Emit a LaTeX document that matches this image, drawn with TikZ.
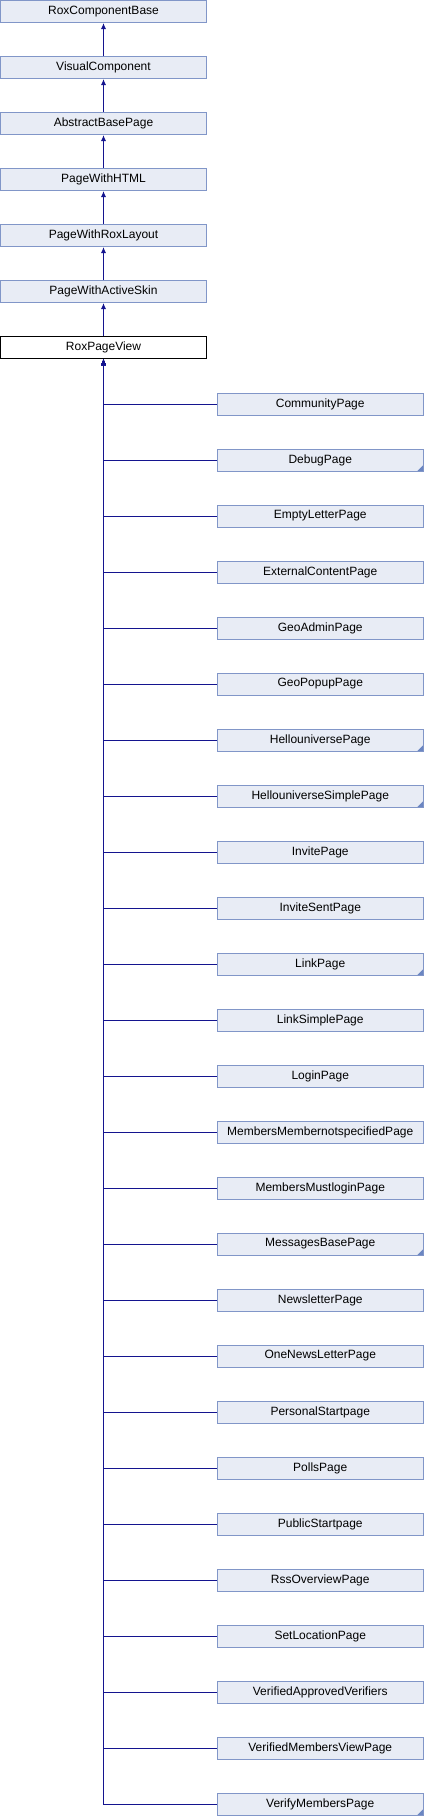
\documentclass[tikz,border=0pt]{standalone}
\usepackage{fontspec}
\setmainfont{Liberation Sans}
\usetikzlibrary{arrows.meta}
\definecolor{boxfill}{HTML}{E8ECF5}
\definecolor{boxline}{HTML}{8196C8}
\definecolor{edgec}{HTML}{14148F}
\definecolor{foldc}{HTML}{6B86C2}
\tikzset{
  cls/.style={rectangle, draw=boxline, fill=boxfill, line width=1pt,
    minimum width=206pt, minimum height=22pt, inner sep=0pt,
    font=\fontsize{12}{14}\selectfont},
  root/.style={cls, draw=black, fill=white},
  folded/.style={path picture={
    \fill[foldc] ([xshift=-6pt]path picture bounding box.south east) --
      (path picture bounding box.south east) --
      ([yshift=6pt]path picture bounding box.south east) -- cycle;}},
  edge/.style={draw=edgec, line width=1pt, -{Latex[length=6pt,width=5pt]}}
}
\begin{document}
\begin{tikzpicture}[x=1pt,y=-1pt]
\useasboundingbox (0,0) rectangle (424,1816);
\node[cls] (n0) at (103.5,11.5) {RoxComponentBase};
\node[cls] (n1) at (103.5,67.5) {VisualComponent};
\node[cls] (n2) at (103.5,123.5) {AbstractBasePage};
\node[cls] (n3) at (103.5,179.5) {PageWithHTML};
\node[cls] (n4) at (103.5,235.5) {PageWithRoxLayout};
\node[cls] (n5) at (103.5,291.5) {PageWithActiveSkin};
\node[root] (rpv) at (103.5,347.5) {RoxPageView};
\draw[edge] (n1.north) -- (n0.south);
\draw[edge] (n2.north) -- (n1.south);
\draw[edge] (n3.north) -- (n2.south);
\draw[edge] (n4.north) -- (n3.south);
\draw[edge] (n5.north) -- (n4.south);
\draw[edge] (rpv.north) -- (n5.south);
\foreach \name/\lab/\f [count=\i from 0] in {
  c0/CommunityPage/,
  c1/DebugPage/folded,
  c2/EmptyLetterPage/,
  c3/ExternalContentPage/,
  c4/GeoAdminPage/,
  c5/GeoPopupPage/,
  c6/HellouniversePage/folded,
  c7/HellouniverseSimplePage/folded,
  c8/InvitePage/,
  c9/InviteSentPage/,
  c10/LinkPage/folded,
  c11/LinkSimplePage/,
  c12/LoginPage/,
  c13/MembersMembernotspecifiedPage/,
  c14/MembersMustloginPage/,
  c15/MessagesBasePage/folded,
  c16/NewsletterPage/,
  c17/OneNewsLetterPage/,
  c18/PersonalStartpage/,
  c19/PollsPage/,
  c20/PublicStartpage/,
  c21/RssOverviewPage/,
  c22/SetLocationPage/,
  c23/VerifiedApprovedVerifiers/,
  c24/VerifiedMembersViewPage/,
  c25/VerifyMembersPage/folded} {
  \node[cls,\f] (\name) at (320.25,404+56*\i) {\lab};
  \draw[edge] (\name.west) -| (rpv.south);
}
\end{tikzpicture}
\end{document}
